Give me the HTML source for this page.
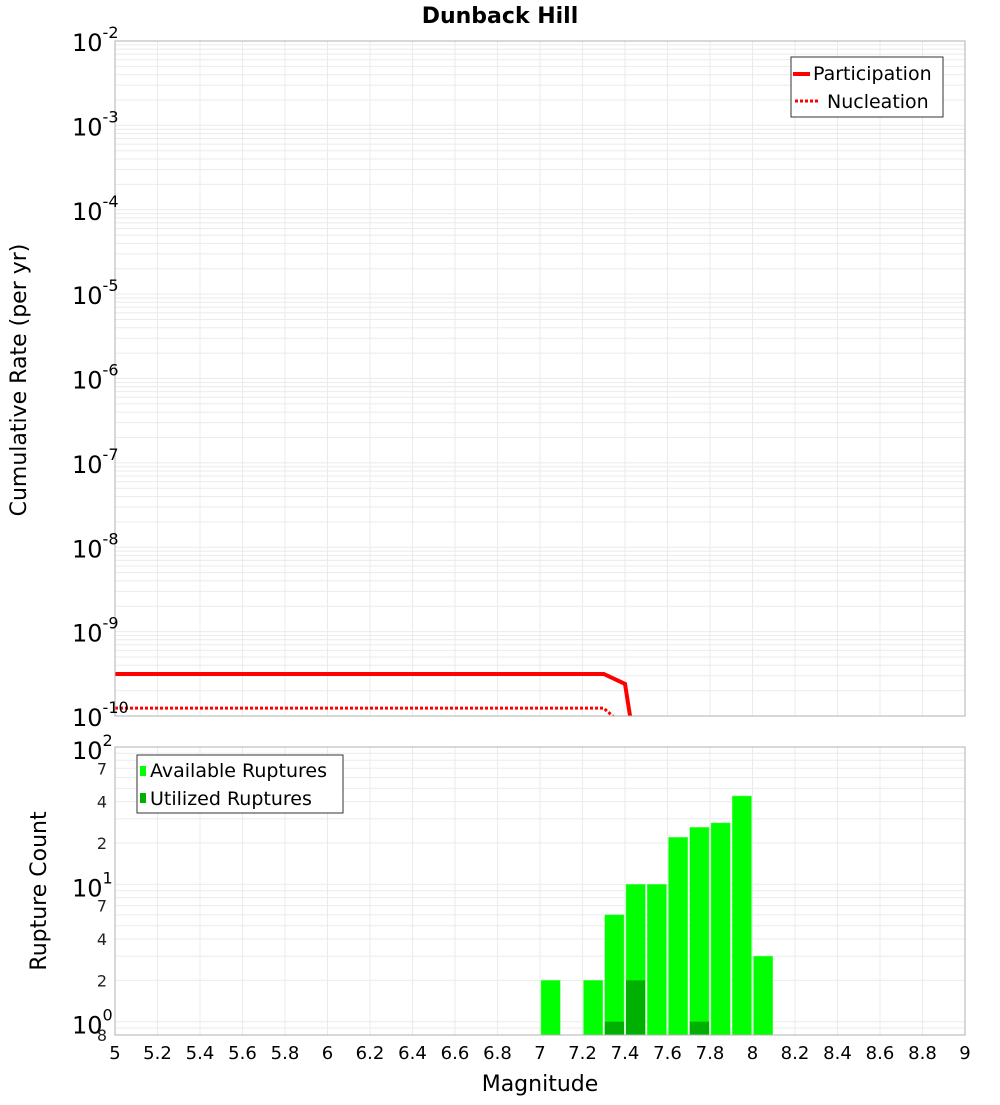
<!DOCTYPE html>
<html><head><meta charset="utf-8"><style>
body{margin:0;background:#fff;font-family:"Liberation Sans","DejaVu Sans",sans-serif}
svg text{font-family:"DejaVu Sans","Liberation Sans",sans-serif}
</style></head><body>
<svg id="c" width="1000" height="1100" xmlns="http://www.w3.org/2000/svg"></svg>
<script>
const partMag=[5,7.3,7.4,7.5];
const partRate=[3.15e-10,3.15e-10,2.4e-10,6e-12];
const nuclMag=[5,7.3,7.4];
const nuclRate=[1.24e-10,1.24e-10,7.4e-11];
const binMag=[7.05,7.25,7.35,7.45,7.55,7.65,7.75,7.85,7.95,8.05];
const availCount=[2,2,6,10,10,22,26,28,44,3];
const usedCount=[0,0,1,2,0,0,1,0,0,0];
const xTicks=[5,5.2,5.4,5.6,5.8,6,6.2,6.4,6.6,6.8,7,7.2,7.4,7.6,7.8,8,8.2,8.4,8.6,8.8,9];

const NS='http://www.w3.org/2000/svg';
const svg=document.getElementById('c');
function el(t,a,p){const e=document.createElementNS(NS,t);for(const k in a)e.setAttribute(k,a[k]);(p||svg).appendChild(e);return e;}
const L=115,R=965;
const X=m=>L+(m-5)/4*(R-L);
const T1=41,B1=716,Y1=v=>T1+(-2-Math.log10(v))*(B1-T1)/8;
const T2=747,B2=1035,lmin=Math.log10(0.8),Y2=v=>B2-(Math.log10(v)-lmin)*(B2-T2)/(2-lmin);

// grids
const g=el('g',{});
for(const t of xTicks){el('line',{x1:X(t),x2:X(t),y1:T1,y2:B1,stroke:'#ebebeb'},g);el('line',{x1:X(t),x2:X(t),y1:T2,y2:B2,stroke:'#ebebeb'},g);}
for(let d=-10;d<-2;d++)for(let k=1;k<10;k++){const y=Y1(k*Math.pow(10,d));el('line',{x1:L,x2:R,y1:y,y2:y,stroke:'#ebebeb'},g);}
for(let d=-1;d<2;d++)for(let k=1;k<10;k++){const v=k*Math.pow(10,d);if(v<0.8)continue;const y=Y2(v);el('line',{x1:L,x2:R,y1:y,y2:y,stroke:'#ebebeb'},g);}

// clip top
const cp=el('clipPath',{id:'cp1'});el('rect',{x:L,y:T1,width:R-L,height:B1-T1},cp);
const pl=el('polyline',{points:partMag.map((m,i)=>X(m)+','+Y1(partRate[i])).join(' '),fill:'none',stroke:'#ff0000','stroke-width':4,'clip-path':'url(#cp1)'});

const nl=el('polyline',{points:nuclMag.map((m,i)=>X(m)+','+Y1(nuclRate[i])).join(' '),fill:'none',stroke:'#ff0000','stroke-width':3,'stroke-dasharray':'3,2','clip-path':'url(#cp1)'});


// bars
binMag.forEach((m,i)=>{
  const x0=X(m-0.05)+1,w=X(m+0.05)-X(m-0.05)-2;
  const b=el('rect',{x:x0,y:Y2(availCount[i]),width:w,height:B2-Y2(availCount[i]),fill:'#00ff00',stroke:'#66ff66','stroke-width':0.5});
  
  if(usedCount[i]>0){const u=el('rect',{x:x0,y:Y2(usedCount[i]),width:w,height:B2-Y2(usedCount[i]),fill:'#00b000'});
  }
});

// frames
el('rect',{x:L,y:T1,width:R-L,height:B1-T1,fill:'none',stroke:'#b0b0b0'});
el('rect',{x:L,y:T2,width:R-L,height:B2-T2,fill:'none',stroke:'#b0b0b0'});

// top y labels
for(let d=-10;d<=-2;d++){const y=Y1(Math.pow(10,d));
  const t=el('text',{x:72,y:y+10,'font-size':24});t.textContent='10';
  const s=el('tspan',{dy:-13,'font-size':16},t);s.textContent=String(d);
  }
// bottom y labels
[[100,'2'],[10,'1'],[1,'0']].forEach(([v,e])=>{const y=Y2(v);
  const t=el('text',{x:72,y:y+12,'font-size':24});t.textContent='10';
  const s=el('tspan',{dy:-13,'font-size':16},t);s.textContent=e;});
[[70,'7'],[40,'4'],[20,'2'],[7,'7'],[4,'4'],[2,'2'],[0.8,'8']].forEach(([v,s])=>{
  const t=el('text',{x:107,y:Y2(v)+6,'font-size':16,'text-anchor':'end',fill:'#222'});t.textContent=s;});
// x labels
for(const t of xTicks){const e=el('text',{x:X(t),y:1059,'font-size':18,'text-anchor':'middle'});e.textContent=String(t);}

// titles
let t=el('text',{x:500,y:23,'font-size':22,'font-weight':'bold','text-anchor':'middle'});t.textContent='Dunback Hill';
t=el('text',{x:540,y:1091,'font-size':22,'text-anchor':'middle'});t.textContent='Magnitude';
t=el('text',{x:0,y:0,'font-size':22,'text-anchor':'middle',transform:'translate(26,380) rotate(-90)'});t.textContent='Cumulative Rate (per yr)';
t=el('text',{x:0,y:0,'font-size':22,'text-anchor':'middle',transform:'translate(46,891) rotate(-90)'});t.textContent='Rupture Count';

// legends
let lg=el('g',{});
el('rect',{x:791,y:57,width:152,height:60,fill:'#fff',stroke:'#333'},lg);
el('line',{x1:793,x2:810,y1:74,y2:74,stroke:'#f00','stroke-width':4},lg);
el('line',{x1:795,x2:820,y1:101,y2:101,stroke:'#f00','stroke-width':3,'stroke-dasharray':'3,2'},lg);
t=el('text',{x:813,y:80,'font-size':19},lg);t.textContent='Participation';
t=el('text',{x:827,y:108,'font-size':19},lg);t.textContent='Nucleation';
lg=el('g',{});
el('rect',{x:137,y:755,width:206,height:58,fill:'#fff',stroke:'#333'},lg);
el('rect',{x:140,y:766,width:6,height:10,fill:'#00ff00'},lg);
el('rect',{x:140,y:793,width:6,height:10,fill:'#00b000'},lg);
t=el('text',{x:150,y:777,'font-size':19},lg);t.textContent='Available Ruptures';
t=el('text',{x:150,y:805,'font-size':19},lg);t.textContent='Utilized Ruptures';
</script>
</body></html>
